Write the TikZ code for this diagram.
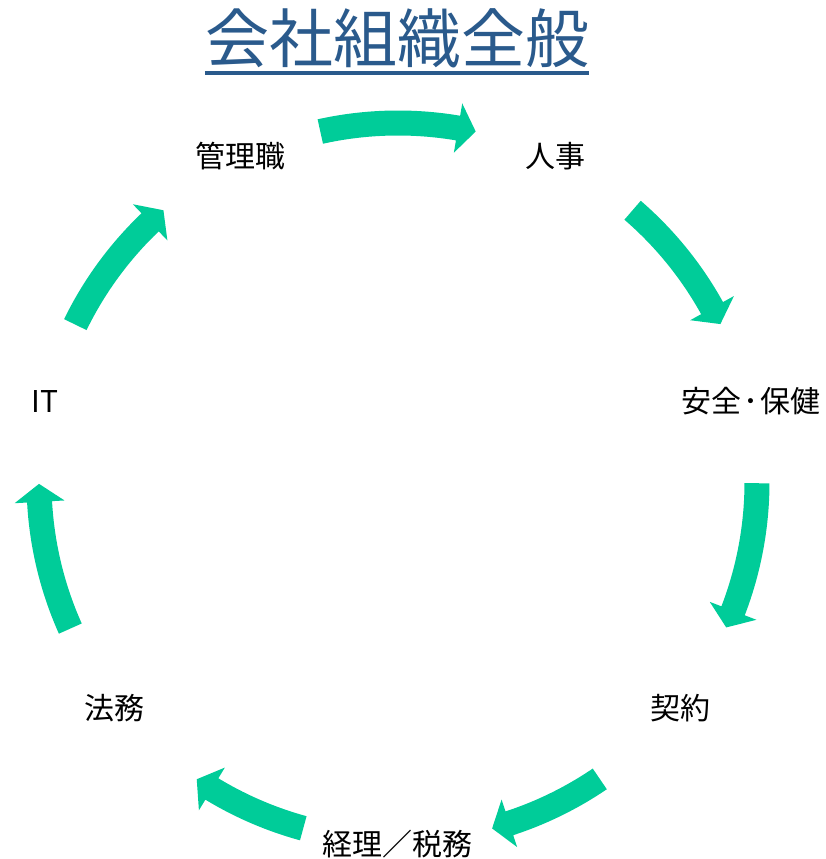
\documentclass[tikz,border=0pt]{standalone}
\usepackage{fontspec}
\setmainfont{Noto Sans CJK JP}
\usetikzlibrary{calc,positioning}
\definecolor{cyclegreen}{HTML}{00CC99}
\definecolor{titleblue}{HTML}{2A5A8C}
\tikzset{
    title style/.style={text=titleblue,font=\fontsize{64}{70}\selectfont,inner sep=0pt},
    title rule/.style={titleblue,line width=3.5pt},
    stage/.style={font=\fontsize{30}{36}\selectfont,inner sep=0pt},
    cycle arrow/.style={fill=cyclegreen},
}

\begin{document}
\begin{tikzpicture}[x=1pt,y=1pt]
    \useasboundingbox (0,0) rectangle (825,859);
    \coordinate (hub) at (398,377);
    \node[title style] (title) at (397,821) {会社組織全般};
    \draw[title rule] ([yshift=-5pt]title.south west) -- ([yshift=-5pt]title.south east);
    % stages sit on a circle, one every 360/7 degrees
    \foreach \name [count=\i from 0] in {管理職,人事,安全\kern2pt･\kern2pt保健,契約,経理／税務,法務,IT}
        \node[stage] (stage\i) at ($(hub)+(115.71-51.43*\i:362)$) {\name};
    % block arrows between neighbouring stages: start angle / tip angle
    \foreach \s/\e in {102.5/77.5,49.2/26.1,-0.2/-23.9,-55.8/-74.8,-105.3/-124.1,-155.9/-179.7,154.0/130.8} {
        \pgfmathsetmacro{\b}{\e+2.87}
        \fill[cycle arrow] ($(hub)+(\s:371.5)$) arc[start angle=\s,end angle=\b,radius=371.5]
            -- ($(hub)+(\b:384)$) -- ($(hub)+(\e:359)$) -- ($(hub)+(\b:334)$)
            -- ($(hub)+(\b:346.5)$) arc[start angle=\b,end angle=\s,radius=346.5] -- cycle;
    }
\end{tikzpicture}
\end{document}
